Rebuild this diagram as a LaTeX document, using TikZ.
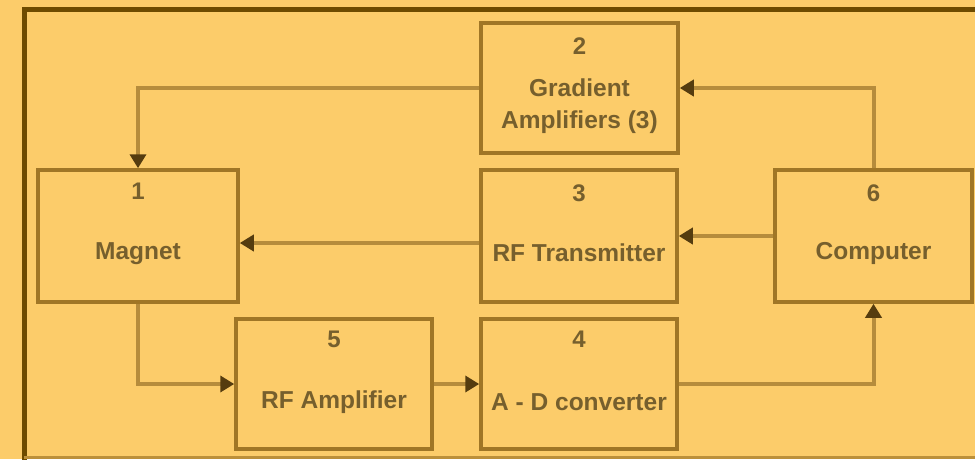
\documentclass[tikz,border=0pt]{standalone}
\usepackage{fontspec}
\setmainfont{Liberation Sans}
\usetikzlibrary{arrows.meta}
\definecolor{bgc}{RGB}{252,204,106}
\definecolor{framec}{RGB}{110,75,0}
\definecolor{boxc}{RGB}{160,118,38}
\definecolor{connc}{RGB}{182,140,60}
\definecolor{arrc}{RGB}{85,60,15}
\definecolor{txtc}{RGB}{118,95,45}
\tikzset{
  blockbox/.style={draw=boxc, line width=3.5pt, fill=bgc, inner sep=0pt},
  numtxt/.style={text=txtc, font=\bfseries\fontsize{24}{26}\selectfont, inner sep=0pt},
  labtxt/.style={text=txtc, font=\bfseries\fontsize{24.5}{32}\selectfont, inner sep=0pt, align=center},
  conn/.style={draw=connc, line width=4pt, -{Triangle[length=14pt,width=16pt,color=arrc]}}
}
\begin{document}
\begin{tikzpicture}[x=1pt,y=-1pt]
\useasboundingbox (0,0) rectangle (975,459);
\fill[bgc] (0,0) rectangle (975,459);
\begin{scope}
\clip (0,0) rectangle (975,459);
\draw[draw=framec, line width=5pt] (24,470) -- (24,9) -- (990,9);
\draw[draw=boxc!70!bgc, line width=3pt] (24,457.5) -- (990,457.5);
\end{scope}
% blocks
\node[blockbox, minimum width=200pt, minimum height=132pt] (b1) at (138,236) {};
\node[blockbox, minimum width=197pt, minimum height=130pt] (b2) at (579.5,88) {};
\node[blockbox, minimum width=196pt, minimum height=132pt] (b3) at (579,236) {};
\node[blockbox, minimum width=197pt, minimum height=132pt] (b6) at (873.5,236) {};
\node[blockbox, minimum width=196pt, minimum height=130pt] (b5) at (334,384) {};
\node[blockbox, minimum width=196pt, minimum height=130pt] (b4) at (579,384) {};
% texts
\node[numtxt] (n1) at ([yshift=-23pt]b1.north) {1};
\node[labtxt] (l1) at ([yshift=-18pt]b1.center) {Magnet};
\node[numtxt] (n2) at ([yshift=-25pt]b2.north) {2};
\node[labtxt] (l2) at ([yshift=-18pt]b2.center) {Gradient\\Amplifiers (3)};
\node[numtxt] (n3) at ([yshift=-25pt]b3.north) {3};
\node[labtxt] (l3) at ([yshift=-17pt]b3.center) {RF Transmitter};
\node[numtxt] (n6) at ([yshift=-25pt]b6.north) {6};
\node[labtxt] (l6) at ([yshift=-17pt]b6.center) {Computer};
\node[numtxt] (n5) at ([yshift=-22pt]b5.north) {5};
\node[labtxt] (l5) at ([yshift=-18pt]b5.center) {RF Amplifier};
\node[numtxt] (n4) at ([yshift=-22pt]b4.north) {4};
\node[labtxt] (l4) at ([yshift=-18pt]b4.center) {A - D converter};
% connectors
\draw[conn] (b2.west) -| (b1.north);
\draw[conn] (b6.north) |- (b2.east);
\draw[conn] (b6.west) -- (b3.east);
\draw[conn] ([yshift=-7pt]b3.west) -- ([yshift=-7pt]b1.east);
\draw[conn] (b1.south) |- (b5.west);
\draw[conn] (b5.east) -- (b4.west);
\draw[conn] (b4.east) -| (b6.south);
\end{tikzpicture}
\end{document}
